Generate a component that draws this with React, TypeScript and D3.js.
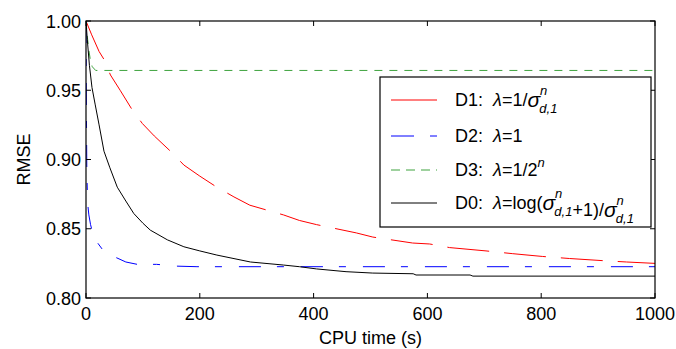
import { useEffect, useRef } from "react";
import * as d3 from "d3";

// CPU time (s) / RMSE samples
const d1Time = [ 0, 10, 23, 32, 43, 60, 81, 99, 120, 151, 172, 200, 230, 260, 288, 347, 375, 405, 475, 504, 574, 604, 639, 703, 750, 802, 850, 907, 950, 1000 ];
const d1Rmse = [ 1.0, 0.99, 0.978, 0.972, 0.961, 0.95, 0.936, 0.926, 0.917, 0.905, 0.896, 0.888, 0.88, 0.873, 0.867, 0.86, 0.856, 0.853, 0.847, 0.844, 0.8397, 0.839, 0.8364, 0.834, 0.832, 0.83, 0.8285, 0.827, 0.826, 0.825 ];

const d2Time = [ 0, 0.5, 1.5, 3, 5, 8, 11, 20, 29, 40, 54, 70, 90, 124, 160, 195, 225, 1000 ];
const d2Rmse = [ 1.0, 0.95, 0.89, 0.868, 0.86, 0.853, 0.848, 0.84, 0.835, 0.831, 0.829, 0.826, 0.8243, 0.8243, 0.823, 0.8226, 0.8226, 0.8226 ];

const d3Time = [ 0, 2, 5, 8, 11, 17, 1000 ];
const d3Rmse = [ 1.0, 0.99, 0.979, 0.971, 0.967, 0.9643, 0.9643 ];

const d0Time = [ 0, 2.3, 6, 10.5, 16, 23, 31.6, 42, 55, 70, 84, 100, 113, 143, 172, 200, 230, 289, 347, 375, 405, 457, 504, 575, 580, 675, 680, 1000 ];
const d0Rmse = [ 1.0, 0.9865, 0.968, 0.952, 0.94, 0.925, 0.906, 0.894, 0.88, 0.87, 0.861, 0.854, 0.849, 0.842, 0.837, 0.834, 0.831, 0.826, 0.8238, 0.8226, 0.821, 0.819, 0.818, 0.8175, 0.8166, 0.8166, 0.8158, 0.8158 ];

const xTicks = [ 0, 200, 400, 600, 800, 1000 ];
const yTicks = [ 0.8, 0.85, 0.9, 0.95, 1.0 ];

const FONT = "Liberation Sans, Arial, sans-serif";

export default function App ()
{
    const svgRef = useRef<SVGSVGElement>( null );

    useEffect( () =>
    {
        if ( !svgRef.current ) return;
        const svg = d3.select( svgRef.current );
        svg.selectAll( "*" ).remove();

        const m = { left: 86, right: 655, top: 21, bottom: 298 };
        const x = d3.scaleLinear().domain( [ 0, 1000 ] ).range( [ m.left, m.right ] );
        const y = d3.scaleLinear().domain( [ 0.8, 1.0 ] ).range( [ m.bottom, m.top ] );

        svg.append( "rect" ).attr( "width", 676 ).attr( "height", 349 ).attr( "fill", "#fff" );

        const series = [
            { t: d1Time, v: d1Rmse, color: "#ff0000", dash: "42,15", legendDash: null },
            { t: d2Time, v: d2Rmse, color: "#0000ff", dash: "22,16,7,17", legendDash: "23,16,7,16" },
            { t: d3Time, v: d3Rmse, color: "#3fa33f", dash: "8,7", legendDash: "9,6" },
            { t: d0Time, v: d0Rmse, color: "#000000", dash: null, legendDash: null },
        ];

        const clip = svg.append( "clipPath" ).attr( "id", "plot-clip" );
        clip.append( "rect" ).attr( "x", m.left ).attr( "y", m.top ).attr( "width", m.right - m.left ).attr( "height", m.bottom - m.top );

        series.forEach( ( s ) =>
        {
            const path = d3.line<number>()
                .x( ( _, i ) => x( s.t[ i ] ) )
                .y( ( d ) => y( d ) );
            svg.append( "path" ).attr( "d", path( s.v ) ).attr( "clip-path", "url(#plot-clip)" )
                .attr( "fill", "none" ).attr( "stroke", s.color ).attr( "stroke-width", 1 )
                .attr( "stroke-dasharray", s.dash );
        } );

        // box + inward ticks
        svg.append( "rect" ).attr( "x", m.left ).attr( "y", m.top ).attr( "width", m.right - m.left ).attr( "height", m.bottom - m.top )
            .attr( "fill", "none" ).attr( "stroke", "#000" ).attr( "stroke-width", 1.2 );

        const tk = 5;
        xTicks.forEach( ( t ) =>
        {
            svg.append( "line" ).attr( "x1", x( t ) ).attr( "x2", x( t ) ).attr( "y1", m.bottom ).attr( "y2", m.bottom - tk ).attr( "stroke", "#000" );
            svg.append( "line" ).attr( "x1", x( t ) ).attr( "x2", x( t ) ).attr( "y1", m.top ).attr( "y2", m.top + tk ).attr( "stroke", "#000" );
            svg.append( "text" ).attr( "x", x( t ) ).attr( "y", 320 ).attr( "text-anchor", "middle" )
                .style( "font-family", FONT ).style( "font-size", "18px" ).text( String( t ) );
        } );
        yTicks.forEach( ( v ) =>
        {
            svg.append( "line" ).attr( "x1", m.left ).attr( "x2", m.left + tk ).attr( "y1", y( v ) ).attr( "y2", y( v ) ).attr( "stroke", "#000" );
            svg.append( "line" ).attr( "x1", m.right ).attr( "x2", m.right - tk ).attr( "y1", y( v ) ).attr( "y2", y( v ) ).attr( "stroke", "#000" );
            svg.append( "text" ).attr( "x", 81 ).attr( "y", y( v ) + 6.5 ).attr( "text-anchor", "end" )
                .style( "font-family", FONT ).style( "font-size", "18px" ).text( v.toFixed( 2 ) );
        } );

        svg.append( "text" ).attr( "x", ( m.left + m.right ) / 2 ).attr( "y", 344 ).attr( "text-anchor", "middle" )
            .style( "font-family", FONT ).style( "font-size", "18px" ).text( "CPU time (s)" );
        svg.append( "text" ).attr( "transform", `translate(30,${ ( m.top + m.bottom ) / 2 }) rotate(-90)` ).attr( "text-anchor", "middle" )
            .style( "font-family", FONT ).style( "font-size", "18px" ).text( "RMSE" );

        // legend
        const lg = svg.append( "g" );
        lg.append( "rect" ).attr( "x", 380 ).attr( "y", 77 ).attr( "width", 271 ).attr( "height", 150 )
            .attr( "fill", "#fff" ).attr( "stroke", "#000" ).attr( "stroke-width", 1.2 );

        const rows = [ 100, 136, 170, 203 ];
        series.forEach( ( s, i ) =>
        {
            lg.append( "line" ).attr( "x1", 391 ).attr( "x2", 437 ).attr( "y1", rows[ i ] ).attr( "y2", rows[ i ] )
                .attr( "stroke", s.color ).attr( "stroke-width", 1 ).attr( "stroke-dasharray", s.legendDash );
        } );

        const label = ( row: number, name: string ) =>
        {
            const t = lg.append( "text" ).attr( "x", 455 ).attr( "y", row + 6 )
                .style( "font-family", FONT ).style( "font-size", "18px" );
            t.append( "tspan" ).text( name + ":" );
            t.append( "tspan" ).attr( "dx", 10 ).style( "font-style", "italic" ).text( "λ" );
            return t;
        };
        const sigma = ( t: d3.Selection<SVGTextElement, unknown, null, undefined> ) =>
        {
            t.append( "tspan" ).style( "font-style", "italic" ).style( "font-size", "21px" ).attr( "dy", 1 ).text( "σ" );
            t.append( "tspan" ).style( "font-style", "italic" ).style( "font-size", "13px" ).attr( "dy", -12 ).attr( "dx", 0 ).text( "n" );
            t.append( "tspan" ).style( "font-style", "italic" ).style( "font-size", "13px" ).attr( "dy", 18 ).attr( "dx", -8 ).text( "d,1" );
            t.append( "tspan" ).attr( "dy", -7 ).text( "" );
        };

        const l1 = label( rows[ 0 ], "D1" );
        l1.append( "tspan" ).text( "=1/" );
        sigma( l1 );

        const l2 = label( rows[ 1 ], "D2" );
        l2.append( "tspan" ).text( "=1" );

        const l3 = label( rows[ 2 ], "D3" );
        l3.append( "tspan" ).text( "=1/2" );
        l3.append( "tspan" ).style( "font-size", "13px" ).style( "font-style", "italic" ).attr( "dy", -9 ).text( "n" );

        const l0 = label( rows[ 3 ], "D0" );
        l0.append( "tspan" ).text( "=log(" );
        sigma( l0 );
        l0.append( "tspan" ).text( "+1)/" );
        sigma( l0 );
    }, [] );

    return (
        <svg ref={ svgRef } width={ 676 } height={ 349 } style={ { position: "absolute", left: 0, top: 0 } } />
    );
}
